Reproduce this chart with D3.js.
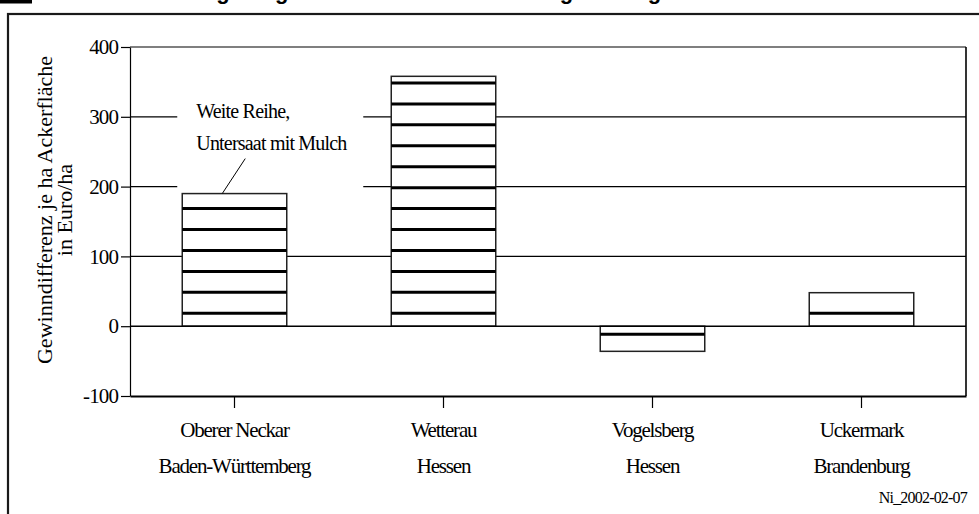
<!DOCTYPE html>
<html>
<head>
<meta charset="utf-8">
<script src="https://cdn.jsdelivr.net/npm/d3@7"></script>
<style>
  body { margin: 0; background: #fff; }
  svg { display: block; }
  .serif { font-family: "Liberation Serif", "Times New Roman", serif; }
</style>
</head>
<body>
<div id="chart"></div>
<script>

// data
var regions = ["Oberer Neckar", "Wetterau", "Vogelsberg", "Uckermark"]
var states = ["Baden-Württemberg", "Hessen", "Hessen", "Brandenburg"]
var gewinnDiff = [190, 358, -36, 48]
var yTicks = [-100, 0, 100, 200, 300, 400]
var gridValues = [100, 200, 300]
var noteLines = ["Weite Reihe,", "Untersaat mit Mulch"]
// title is cut off by the page edge, only the descenders show
var titleText = "Anbauregelung: Mulchsaat im Gewinnvergleich – gesamt"
var footnote = "Ni_2002-02-07"

// hatch lines inside the bars (data units)
var hatchStep = 30, hatchStart = -11.5

var W = 979, H = 514
var margin = {top: 47, right: 13, bottom: 118, left: 130}
var width = W - margin.left - margin.right,
    height = H - margin.top - margin.bottom

var svg = d3.select("#chart").append("svg")
    .attr("width", W)
    .attr("height", H)

// title bar at the very top
svg.append("rect")
    .attr("x", 0).attr("y", -20)
    .attr("width", 32).attr("height", 23.5)
    .attr("fill", "#000")
svg.append("text")
    .attr("x", 127).attr("y", -1)
    .attr("font-family", "Liberation Sans, Arial, sans-serif")
    .attr("font-weight", "bold")
    .attr("font-size", 22)
    .text(titleText)

// outer frame (runs off the page right and bottom)
svg.append("rect")
    .attr("x", 8).attr("y", 14)
    .attr("width", 1000).attr("height", 600)
    .attr("fill", "none")
    .attr("stroke", "#1a1a1a")
    .attr("stroke-width", 2.2)

var g = svg.append("g")
    .attr("transform", "translate(" + margin.left + "," + margin.top + ")")

var x = d3.scaleBand()
    .domain(regions)
    .range([0, width])
    .paddingInner(0.5)
    .paddingOuter(0.25)

var y = d3.scaleLinear()
    .domain([-100, 400])
    .range([height, 0])

// grid lines
g.selectAll(".grid")
    .data(gridValues)
    .enter().append("line")
    .attr("x1", 0).attr("x2", width)
    .attr("y1", function(d){ return y(d) })
    .attr("y2", function(d){ return y(d) })
    .attr("stroke", "#000")
    .attr("stroke-width", 1.2)

// white box behind the note (interrupts grid lines)
var x0 = x(regions[0])
g.append("rect")
    .attr("x", x0 - 5)
    .attr("y", y(330))
    .attr("width", 186)
    .attr("height", y(195) - y(330))
    .attr("fill", "#fff")

// bars
var bars = g.selectAll(".bar")
    .data(gewinnDiff)
    .enter().append("g")

bars.append("rect")
    .attr("x", function(d,i){ return x(regions[i]) })
    .attr("width", x.bandwidth())
    .attr("y", function(d){ return y(Math.max(0, d)) })
    .attr("height", function(d){ return Math.abs(y(d) - y(0)) })
    .attr("fill", "#fff")
    .attr("stroke", "#222")
    .attr("stroke-width", 1.5)

bars.each(function(d, i){
    var lo = Math.min(0, d), hi = Math.max(0, d)
    var vals = d3.range(hatchStart, 400, hatchStep).filter(function(v){ return v > lo && v < hi })
    d3.select(this).selectAll("line")
      .data(vals)
      .enter().append("line")
      .attr("x1", x(regions[i]))
      .attr("x2", x(regions[i]) + x.bandwidth())
      .attr("y1", function(v){ return y(v) })
      .attr("y2", function(v){ return y(v) })
      .attr("stroke", "#000")
      .attr("stroke-width", 3)
})

// top line, zero line, right border
g.append("line")
    .attr("x1", 0).attr("x2", width)
    .attr("y1", y(400)).attr("y2", y(400))
    .attr("stroke", "#000").attr("stroke-width", 1.2)
g.append("line")
    .attr("x1", 0).attr("x2", width)
    .attr("y1", y(0)).attr("y2", y(0))
    .attr("stroke", "#000").attr("stroke-width", 1.6)
g.append("line")
    .attr("x1", width).attr("x2", width)
    .attr("y1", y(400)).attr("y2", y(-100))
    .attr("stroke", "#000").attr("stroke-width", 1.6)

// y axis (plain hyphen for the minus like the original)
var yAxis = g.append("g")
    .call(d3.axisLeft(y).tickValues(yTicks).tickSize(9).tickSizeOuter(0).tickPadding(3)
      .tickFormat(function(d){ return String(d) }))
yAxis.select(".domain").attr("stroke", "#000").attr("stroke-width", 1.2)
yAxis.selectAll(".tick line").attr("stroke", "#000").attr("stroke-width", 1.2)
yAxis.selectAll(".tick text")
    .attr("class", "serif")
    .attr("font-size", 21)
    .attr("letter-spacing", -0.9)
    .attr("fill", "#000")

// x axis
var xAxis = g.append("g")
    .attr("transform", "translate(0," + height + ")")
    .call(d3.axisBottom(x).tickSize(12).tickSizeOuter(0).tickFormat(""))
xAxis.select(".domain").attr("stroke", "#000").attr("stroke-width", 2.2)
xAxis.selectAll(".tick line").attr("stroke", "#000").attr("stroke-width", 1.2)

var xl = g.selectAll(".xlab")
    .data(regions)
    .enter().append("text")
    .attr("class", "serif")
    .attr("text-anchor", "middle")
    .attr("font-size", 21)
    .attr("letter-spacing", -1.2)
    .attr("transform", function(d){ return "translate(" + (x(d) + x.bandwidth() / 2) + "," + (height + 41) + ")" })
xl.append("tspan").attr("x", 0).attr("y", 0).text(function(d){ return d })
xl.append("tspan").attr("x", 0).attr("y", 36).text(function(d,i){ return states[i] })

// y title
var yt = g.append("text")
    .attr("class", "serif")
    .attr("text-anchor", "middle")
    .attr("font-size", 22)
    .attr("transform", "translate(" + (52 - margin.left) + "," + (210 - margin.top) + ") rotate(-90)")
yt.append("tspan").attr("x", 0).attr("y", 0).text("Gewinndifferenz je ha Ackerfläche")
yt.append("tspan").attr("x", 0).attr("y", 20).text("in Euro/ha")

// note with leader line to bar 1
var note = g.append("text")
    .attr("class", "serif")
    .attr("font-size", 20)
    .attr("letter-spacing", -0.8)
note.selectAll("tspan")
    .data(noteLines)
    .enter().append("tspan")
    .attr("x", x0 + 14)
    .attr("y", function(d,i){ return y(gewinnDiff[0]) - 76 + i * 32 })
    .text(function(d){ return d })

g.append("line")
    .attr("x1", x0 + 63).attr("y1", y(gewinnDiff[0]) - 35)
    .attr("x2", x0 + 40).attr("y2", y(gewinnDiff[0]))
    .attr("stroke", "#000").attr("stroke-width", 1)

// footnote
svg.append("text")
    .attr("class", "serif")
    .attr("x", 967).attr("y", 503)
    .attr("text-anchor", "end")
    .attr("font-size", 16)
    .attr("letter-spacing", -0.8)
    .text(footnote)

</script>
</body>
</html>
